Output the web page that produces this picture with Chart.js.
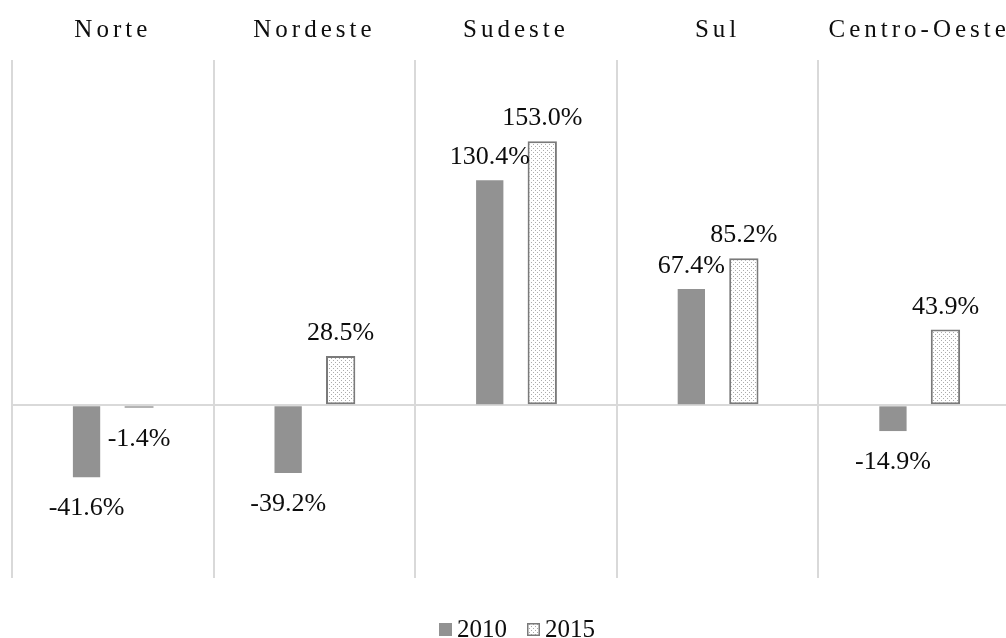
<!DOCTYPE html>
<html>
<head>
<meta charset="utf-8">
<script src="https://cdn.jsdelivr.net/npm/chart.js@4/dist/chart.umd.min.js"></script>
<style>
html,body{margin:0;padding:0;background:#fff;overflow:hidden;width:1006px;height:638px;}
#wrap{position:absolute;left:0;top:0;width:1030px;height:638px;}
</style>
</head>
<body>
<div id="wrap"><canvas id="c" width="1030" height="638"></canvas></div>
<script>
const categories = ['Norte', 'Nordeste', 'Sudeste', 'Sul', 'Centro-Oeste'];
const seriesNames = ['2010', '2015'];
const values2010 = [-41.6, -39.2, 130.4, 67.4, -14.9];
const values2015 = [-1.4, 28.5, 153.0, 85.2, 43.9];
const yMin = -100, yMax = 200;

const canvas = document.getElementById('c');
const ctx = canvas.getContext('2d');

function makePattern() {
  const p = document.createElement('canvas');
  p.width = 4; p.height = 4;
  const g = p.getContext('2d');
  g.fillStyle = '#ffffff';
  g.fillRect(0, 0, 4, 4);
  g.fillStyle = '#acacac';
  g.fillRect(1, 0, 1, 1);
  g.fillRect(3, 2, 1, 1);
  return ctx.createPattern(p, 'repeat');
}
const dotPattern = makePattern();
const SOLID = '#929292';
const BORDER15 = '#7a7a7a';
const FONT = '"Liberation Serif", "Times New Roman", serif';

const labelPlugin = {
  id: 'labels',
  afterDatasetsDraw(chart) {
    const c = chart.ctx;
    c.save();
    c.font = '26px ' + FONT;
    c.fillStyle = '#0d0d0d';
    c.textAlign = 'center';
    c.textBaseline = 'alphabetic';
    chart.data.datasets.forEach((ds, di) => {
      const meta = chart.getDatasetMeta(di);
      meta.data.forEach((el, i) => {
        const v = ds.data[i];
        const txt = v.toFixed(1) + '%';
        const y = v >= 0 ? el.y - 16 : el.y + 38;
        c.fillText(txt, el.x, y);
      });
    });
    c.restore();
  },
  afterDraw(chart) {
    const c = chart.ctx;
    const xs = chart.scales.x;
    const area = chart.chartArea;
    c.save();
    c.font = '25px ' + FONT;
    c.fillStyle = '#0d0d0d';
    c.textAlign = 'center';
    c.textBaseline = 'alphabetic';
    try { c.letterSpacing = '4px'; } catch (e) {}
    categories.forEach((cat, i) => {
      c.fillText(cat, xs.getPixelForValue(i), 37);
    });
    try { c.letterSpacing = '0px'; } catch (e) {}
    c.textAlign = 'left';
    const box = 13, gapBox = 5, gapItem = 20;
    const widths = seriesNames.map(s => c.measureText(s).width);
    const total = seriesNames.length * (box + gapBox) + widths.reduce((a, b) => a + b, 0) + gapItem * (seriesNames.length - 1);
    let x = (area.left + area.right) / 2 - total / 2 + 1;
    const by = 623;
    seriesNames.forEach((s, i) => {
      const ds = chart.data.datasets[i];
      c.fillStyle = ds.backgroundColor;
      c.fillRect(x, by, box, box);
      if (ds.borderWidth) {
        c.strokeStyle = ds.borderColor;
        c.lineWidth = 1.5;
        c.strokeRect(x + 0.75, by + 0.75, box - 1.5, box - 1.5);
      }
      x += box + gapBox;
      c.fillStyle = '#0d0d0d';
      c.fillText(s, x, 637);
      x += widths[i] + gapItem;
    });
    c.restore();
  }
};

new Chart(ctx, {
  type: 'bar',
  data: {
    labels: categories,
    datasets: [
      {
        label: seriesNames[0],
        data: values2010,
        backgroundColor: SOLID,
        borderWidth: 0,
        barPercentage: 0.52,
        categoryPercentage: 0.521
      },
      {
        label: seriesNames[1],
        data: values2015,
        backgroundColor: dotPattern,
        borderColor: BORDER15,
        borderWidth: 2,
        borderSkipped: false,
        barPercentage: 0.558,
        categoryPercentage: 0.521
      }
    ]
  },
  options: {
    responsive: false,
    animation: false,
    devicePixelRatio: 1,
    layout: { padding: { left: 12, right: 10, top: 60, bottom: 60 } },
    plugins: { legend: { display: false }, tooltip: { enabled: false } },
    scales: {
      x: {
        offset: true,
        border: { display: false },
        ticks: { display: false },
        grid: { offset: true, color: '#d9d9d9', lineWidth: 2, drawTicks: false }
      },
      y: {
        min: yMin,
        max: yMax,
        border: { display: false },
        ticks: { display: false, stepSize: 100 },
        grid: {
          drawTicks: false,
          lineWidth: 2,
          color: (ctx) => (ctx.tick && ctx.tick.value === 0 ? '#d9d9d9' : 'rgba(0,0,0,0)')
        }
      }
    }
  },
  plugins: [labelPlugin]
});
</script>
</body>
</html>
